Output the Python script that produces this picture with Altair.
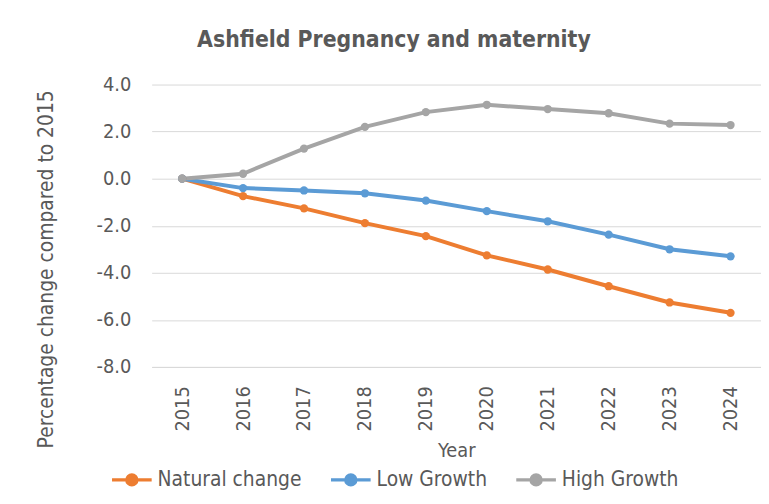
import altair as alt
import pandas as pd

years = [2015, 2016, 2017, 2018, 2019, 2020, 2021, 2022, 2023, 2024]
natural_change = [0.0, -0.74, -1.26, -1.89, -2.44, -3.26, -3.86, -4.57, -5.26, -5.70]
low_growth = [0.0, -0.40, -0.50, -0.62, -0.93, -1.38, -1.81, -2.38, -3.00, -3.30]
high_growth = [0.0, 0.21, 1.28, 2.20, 2.83, 3.14, 2.96, 2.78, 2.34, 2.28]
series_names = ["Natural change", "Low Growth", "High Growth"]
series_colors = ["#ED7D31", "#5B9BD5", "#A5A5A5"]
y_ticks = [-8, -6, -4, -2, 0, 2, 4]

rows = []
for name, vals in zip(series_names, [natural_change, low_growth, high_growth]):
    for yr, v in zip(years, vals):
        rows.append({"Year": str(yr), "Series": name, "Value": v,
                     "order": series_names.index(name)})
df = pd.DataFrame(rows)

FONT = "Liberation Sans Narrow, DejaVu Sans Condensed, Lato, sans-serif"
TXT = "#595959"

legend_path = "M-1,0H1M-0.25,0A0.25,0.25 0 1,1 0.25,0A0.25,0.25 0 1,1 -0.25,0"

chart = alt.Chart(df).mark_line(
    strokeWidth=4,
    point=alt.OverlayMarkDef(filled=True, size=70),
).encode(
    x=alt.X("Year:N", sort=[str(y) for y in years],
            axis=alt.Axis(title="Year", labelAngle=270, labelFontSize=20,
                          labelColor=TXT, labelFont=FONT, labelPadding=19,
                          labelAlign="right", labelBaseline="middle",
                          ticks=False, domainColor="#D9D9D9", grid=False,
                          titleFont=FONT, titleFontSize=20, titleColor=TXT,
                          titleFontWeight="normal", titleY=84,
                          titleBaseline="middle")),
    y=alt.Y("Value:Q", scale=alt.Scale(domain=[-8, 4], nice=False),
            axis=alt.Axis(title="Percentage change compared to 2015",
                          values=y_ticks,
                          labelExpr="(datum.value < 0 ? '-' : '') + format(abs(datum.value), '.1f')",
                          labelFontSize=20, labelColor=TXT, labelFont=FONT,
                          labelPadding=21, ticks=False, domain=False,
                          gridColor="#D9D9D9", gridWidth=1,
                          titleFont=FONT, titleFontSize=21, titleColor=TXT,
                          titleFontWeight="normal", titleX=-106, titleY=186,
                          titleAngle=270, titleAlign="center",
                          titleBaseline="middle")),
    color=alt.Color("Series:N",
                    scale=alt.Scale(domain=series_names, range=series_colors),
                    legend=alt.Legend(title=None, orient="none", legendX=-42,
                                      legendY=377, direction="horizontal",
                                      symbolType=legend_path, symbolSize=1600,
                                      symbolStrokeWidth=3.5,
                                      labelFontSize=21, labelColor=TXT,
                                      labelFont=FONT, labelOffset=4,
                                      columnPadding=22)),
    order=alt.Order("order:Q"),
).properties(
    width=615,
    height=285,
    title=alt.TitleParams("Ashfield Pregnancy and maternity", font=FONT,
                          fontSize=23, fontWeight="bold", color=TXT,
                          anchor="middle", dx=-63, offset=23),
    autosize="none",
    padding={"left": 145, "top": 75, "right": 0, "bottom": 128},
).configure_view(stroke=None)

chart.save("out.html", embed_options={"renderer": "svg", "actions": False})
